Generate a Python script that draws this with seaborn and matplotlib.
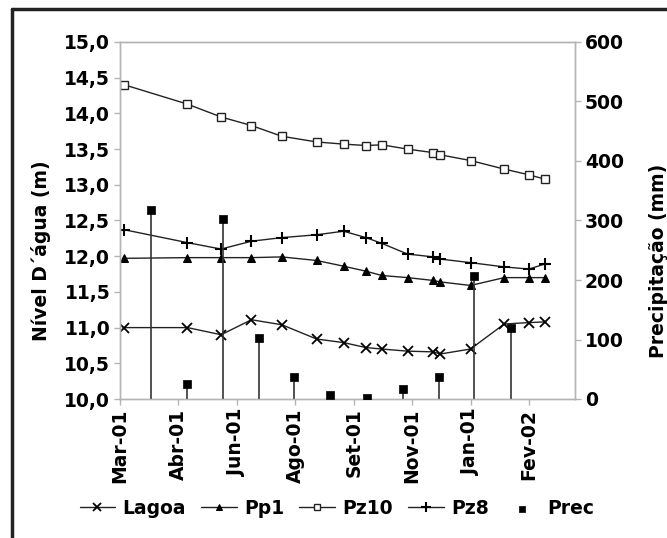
import numpy as np
import pandas as pd
import matplotlib
matplotlib.use("Agg")
import matplotlib.pyplot as plt
from matplotlib.lines import Line2D
import seaborn as sns

# days since 01/03/2001 for the water level readings
dias = [4, 60, 90, 117, 144, 175, 199, 219, 233, 256, 279, 285, 312, 342, 364, 378]
lagoa = [11.00, 11.00, 10.90, 11.11, 11.04, 10.84, 10.79, 10.72, 10.70, 10.67,
         10.66, 10.63, 10.70, 11.05, 11.07, 11.08]
pp1 = [11.97, 11.98, 11.98, 11.98, 11.99, 11.94, 11.86, 11.79, 11.73, 11.70,
       11.66, 11.64, 11.59, 11.70, 11.70, 11.70]
pz10 = [14.40, 14.13, 13.95, 13.83, 13.68, 13.60, 13.57, 13.55, 13.56, 13.50,
        13.45, 13.42, 13.34, 13.22, 13.14, 13.08]
pz8 = [12.37, 12.19, 12.10, 12.21, 12.26, 12.30, 12.35, 12.26, 12.18, 12.03,
       11.99, 11.96, 11.91, 11.85, 11.82, 11.89]

# monthly rainfall
dias_prec = [28, 60, 92, 124, 155, 187, 220, 252, 284, 315, 348]
prec = [318, 26, 302, 102, 37, 7, 2, 16, 37, 207, 120]

meses = ["Mar-01", "Abr-01", "Jun-01", "Ago-01", "Set-01", "Nov-01", "Jan-01", "Fev-02"]

sns.set_style("white")
plt.rcParams['font.family'] = ['DejaVu Sans']
plt.rcParams['font.weight'] = 'bold'
plt.rcParams['text.color'] = 'black'

fig = plt.figure(figsize=(6.67, 5.38), dpi=100)
ax = fig.add_axes([120/667, 1 - 399/538, (575 - 120)/667, (399 - 42)/538])
ax2 = ax.twinx()

cinza = '#b4b4b4'
linha = '#222222'

sns.lineplot(x=dias, y=lagoa, ax=ax, color=linha, lw=1, marker='x', markersize=6.5,
             markeredgewidth=1.3, markeredgecolor='black', label='Lagoa')
sns.lineplot(x=dias, y=pp1, ax=ax, color=linha, lw=1, marker='^', markersize=6,
             markerfacecolor='black', markeredgecolor='black', label='Pp1')
sns.lineplot(x=dias, y=pz10, ax=ax, color=linha, lw=1, marker='s', markersize=6,
             markerfacecolor='white', markeredgecolor='#222222', markeredgewidth=1,
             label='Pz10')
sns.lineplot(x=dias, y=pz8, ax=ax, color=linha, lw=1, marker='+', markersize=9,
             markeredgewidth=1.5, markeredgecolor='black', label='Pz8')

ax2.vlines(dias_prec, 0, prec, color='#333333', lw=1.2)
sns.scatterplot(x=dias_prec, y=prec, ax=ax2, marker='s', s=36, color='black',
                edgecolor='black', linewidth=0.5, label='Prec', zorder=5)

ax.set_xlim(0, 405)
ax.set_ylim(10, 15)
ax2.set_ylim(0, 600)

yt = np.arange(10, 15.01, 0.5)
ax.set_yticks(yt)
ax.set_yticklabels([f"{v:.1f}".replace('.', ',') for v in yt], fontsize=13.5, fontweight='bold')
ax2.set_yticks(np.arange(0, 601, 100))
ax2.set_yticklabels([str(v) for v in range(0, 601, 100)], fontsize=13.5, fontweight='bold')
ax.set_xticks(np.arange(len(meses)) * 52)
ax.set_xticklabels(meses, rotation=90, fontsize=13.5, fontweight='bold')

for a in (ax, ax2):
    for s in a.spines.values():
        s.set_color(cinza)
        s.set_linewidth(1)
    a.tick_params(direction='out', length=4, width=1, color=cinza, labelcolor='black', pad=3)
ax.tick_params(axis='both', which='both', left=True, bottom=True)
ax2.tick_params(axis='y', right=True)

ax.set_xlabel('')
ax.set_ylabel('')
fig.text(41/667, 1 - 251/538, 'Nível D´água (m)', rotation=90, ha='center', va='center',
         fontsize=13.5, fontweight='bold', color='black')
fig.text(658/667, 1 - 261/538, 'Precipitação (mm)', rotation=90, ha='center', va='center',
         fontsize=13.5, fontweight='bold', color='black')

h1, l1 = ax.get_legend_handles_labels()
h2, l2 = ax2.get_legend_handles_labels()
ax.get_legend().remove()
ax2.get_legend().remove()
leg = fig.legend(h1 + h2, l1 + l2, loc='center', bbox_to_anchor=(0.505, 1 - 508/538), ncol=5,
                 frameon=False, handlelength=1.9, handletextpad=0.4, markerscale=0.8,
                 columnspacing=0.8, prop={'weight': 'bold', 'size': 13.5})
for t in leg.get_texts():
    t.set_color('black')

# border of the original frame (only top and left are visible)
fig.add_artist(Line2D([12/667, 12/667], [0, 1 - 9/538], color='#222222', lw=2.5,
                      transform=fig.transFigure))
fig.add_artist(Line2D([12/667, 1], [1 - 9/538, 1 - 9/538], color='#222222', lw=2.5,
                      transform=fig.transFigure))

fig.savefig('out.png', dpi=100)
